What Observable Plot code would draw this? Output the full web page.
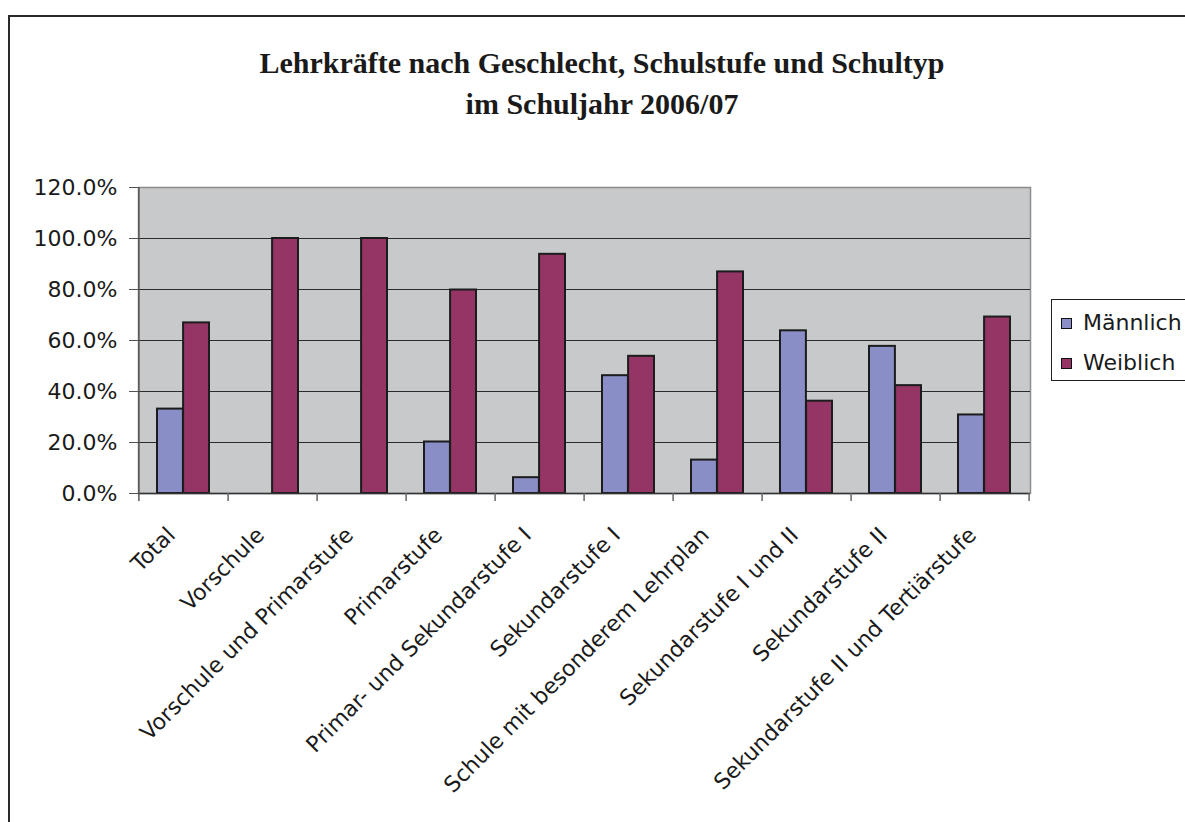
<!DOCTYPE html>
<html>
<head>
<meta charset="utf-8">
<script src="https://cdn.jsdelivr.net/npm/d3@7"></script>
<script src="https://cdn.jsdelivr.net/npm/@observablehq/plot@0.6"></script>
<style>
  html, body { margin: 0; padding: 0; background: #fff; overflow: hidden; }
  #wrap { position: relative; width: 1185px; height: 822px; overflow: hidden; }
  #border { position: absolute; left: 8px; top: 15px; width: 1250px; height: 900px; border: 2px solid #2a2a2a; box-sizing: border-box; }
  #title { position: absolute; left: 152px; width: 900px; top: 42px; text-align: center; white-space: nowrap;
           font-family: "Liberation Serif", serif; font-weight: bold; font-size: 30px; letter-spacing: 0px; line-height: 41px; color: #1a1a1a; }
  #chart { position: absolute; left: 0; top: 0; }
  #legend { position: absolute; left: 1051px; top: 299px; width: 160px; height: 82px; border: 1.5px solid #222;
            background: #fff; box-sizing: border-box; font-family: "DejaVu Sans", sans-serif; font-size: 22px; color: #1a1a1a; }
  .item { position: absolute; left: 9px; height: 26px; line-height: 26px; white-space: nowrap; }
  .sw { display: inline-block; width: 9px; height: 9px; border: 1px solid #111; margin-right: 11px; vertical-align: 1px; }
</style>
</head>
<body>
<div id="wrap">
  <div id="border"></div>
  <div id="chart"></div>
  <div id="title">Lehrkräfte nach Geschlecht, Schulstufe und Schultyp<br>im Schuljahr 2006/07</div>
  <div id="legend"></div>
</div>
<script>
// ---- data ----
const categories = [
  "Total",
  "Vorschule",
  "Vorschule und Primarstufe",
  "Primarstufe",
  "Primar- und Sekundarstufe I",
  "Sekundarstufe I",
  "Schule mit besonderem Lehrplan",
  "Sekundarstufe I und II",
  "Sekundarstufe II",
  "Sekundarstufe II und Tertiärstufe"
];
const maennlich = [33.1, 0, 0, 20.2, 6.2, 46.2, 13.1, 63.8, 57.7, 30.8];
const weiblich  = [66.9, 100, 100, 79.8, 93.8, 53.8, 86.9, 36.2, 42.3, 69.2];
const seriesNames = ["Männlich", "Weiblich"];
const seriesColors = ["#8A8EC6", "#943566"];
const yTicks = [0, 20, 40, 60, 80, 100, 120];

// ---- layout ----
const W = 1185, H = 822;
const mL = 138, mR = 155, mT = 187, mB = 329;
const padIn = 0.415, padOut = padIn / 2;
const n = categories.length;
const step = (W - mL - mR) / (n - padIn + 2 * padOut);
const bw = step * (1 - padIn);
const pxPerUnit = (H - mT - mB) / 120;
const tickUnits = 8 / pxPerUnit;

const rows = categories.map((c, i) => ({category: c, m: maennlich[i], w: weiblich[i]}));

const chart = Plot.plot({
  width: W, height: H,
  marginLeft: mL, marginRight: mR, marginTop: mT, marginBottom: mB,
  x: {domain: categories, paddingInner: padIn, paddingOuter: padOut, label: null},
  y: {domain: [0, 120], label: null},
  style: {fontFamily: "DejaVu Sans, sans-serif", fontSize: "22px", color: "#1a1a1a", background: "transparent", overflow: "visible"},
  marks: [
    Plot.frame({fill: "#C8C9CB", stroke: "#8c8c8c", strokeWidth: 1.5}),
    Plot.gridY(yTicks.filter(t => t > 0 && t < 120), {stroke: "#2b2b2b", strokeOpacity: 1, strokeWidth: 1}),
    Plot.barY(rows.filter(d => d.m > 0), {x: "category", y: "m", fill: seriesColors[0], stroke: "#1c1c1c", strokeWidth: 2, insetRight: bw / 2}),
    Plot.barY(rows.filter(d => d.w > 0), {x: "category", y: "w", fill: seriesColors[1], stroke: "#1c1c1c", strokeWidth: 2, insetLeft: bw / 2}),
    Plot.ruleY([0], {stroke: "#333", strokeWidth: 1.5}),
    Plot.ruleX([categories[0]], {x: d => d, dx: -step / 2, y1: -tickUnits, y2: 120, stroke: "#555", strokeWidth: 1.5}),
    Plot.ruleX(categories, {x: d => d, dx: step / 2, y1: -tickUnits, y2: 0, stroke: "#666", strokeWidth: 1.5}),
    Plot.axisY({ticks: yTicks, tickFormat: d => d.toFixed(1) + "%", tickSize: 9, tickPadding: 12, stroke: "#555"}),
    Plot.axisX({tickSize: 0, tickRotate: -45, tickPadding: 38, dx: -12})
  ]
});
document.getElementById("chart").appendChild(chart);

// legend
const legend = document.getElementById("legend");
seriesNames.forEach((name, i) => {
  const it = document.createElement("div");
  it.className = "item";
  it.style.top = (10 + i * 40) + "px";
  const sw = document.createElement("span");
  sw.className = "sw";
  sw.style.background = seriesColors[i];
  it.appendChild(sw);
  it.appendChild(document.createTextNode(name));
  legend.appendChild(it);
});
</script>
</body>
</html>
